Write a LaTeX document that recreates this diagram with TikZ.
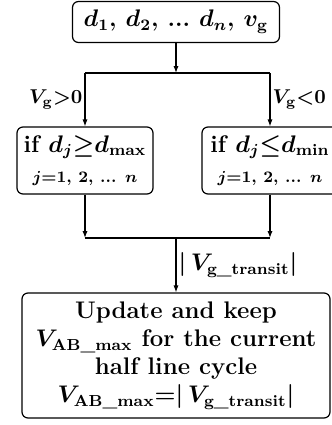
\documentclass[tikz,border=0pt]{standalone}
\usepackage{amsmath,amssymb}
\usetikzlibrary{positioning,arrows.meta}

\begin{document}
\begin{tikzpicture}[x=0.5pt, y=-0.5pt,
  box/.style={rectangle, rounded corners=3pt, draw=black, fill=white,
              line width=0.6pt, align=center, inner sep=0pt,
              font=\large\bfseries\boldmath},
  inbox/.style={box, minimum width=103.5pt, minimum height=20.5pt},
  condbox/.style={box, minimum width=68pt, minimum height=33.5pt},
  outbox/.style={box, minimum width=154pt, minimum height=62.5pt},
  arr/.style={-{Latex[length=3.5pt,width=2.6pt]}, line width=0.6pt},
  ln/.style={line width=0.6pt},
  lbl/.style={font=\bfseries\boldmath, inner sep=1pt},
]
  \clip (0,0) rectangle (332,425);

  % ---- Input ----
  \node[inbox] (in) at (176,22)
      {$d_1$,\ $d_2$,\ ...\ $d_n$,\ $v_{\mathrm{g}}$};

  % ---- Conditions ----
  \node[condbox] (lc) at (85,160.5)
      {if $d_j{\geq}d_{\max}$\\[1pt]
       {\footnotesize $j{=}1$, 2, ... $n$}};
  \node[condbox] (rc) at (270,160.5)
      {if $d_j{\leq}d_{\min}$\\[1pt]
       {\footnotesize $j{=}1$, 2, ... $n$}};

  % ---- Result ----
  \node[outbox] (out) at (176,355.5)
      {Update and keep\\
       $V_{\text{AB\_max}}$ for the current\\
       half line cycle\\
       $V_{\text{AB\_max}}{=}|\,V_{\text{g\_transit}}|$};

  % ---- Junctions ----
  \coordinate (split) at (176,73);
  \coordinate (sl) at (85,73);
  \coordinate (sr) at (270,73);
  \coordinate (ml) at (85,238);
  \coordinate (mr) at (270,238);
  \coordinate (merge) at (176,238);

  % ---- Arrows ----
  \draw[arr] (in) -- (split);
  \draw[ln] (sl) -- (sr);
  \draw[arr] (sl) -- node[lbl, left]{$V_{\mathrm{g}}{>}0$} (lc);
  \draw[arr] (sr) -- node[lbl, right]{$V_{\mathrm{g}}{<}0$} (rc);
  \draw[arr] (lc) -- (ml);
  \draw[arr] (rc) -- (mr);
  \draw[ln] (ml) -- (mr);
  \draw[arr] (merge) -- node[lbl, right, font=\large\bfseries\boldmath]
      {$|\,V_{\text{g\_transit}}|$} (out);
\end{tikzpicture}
\end{document}
